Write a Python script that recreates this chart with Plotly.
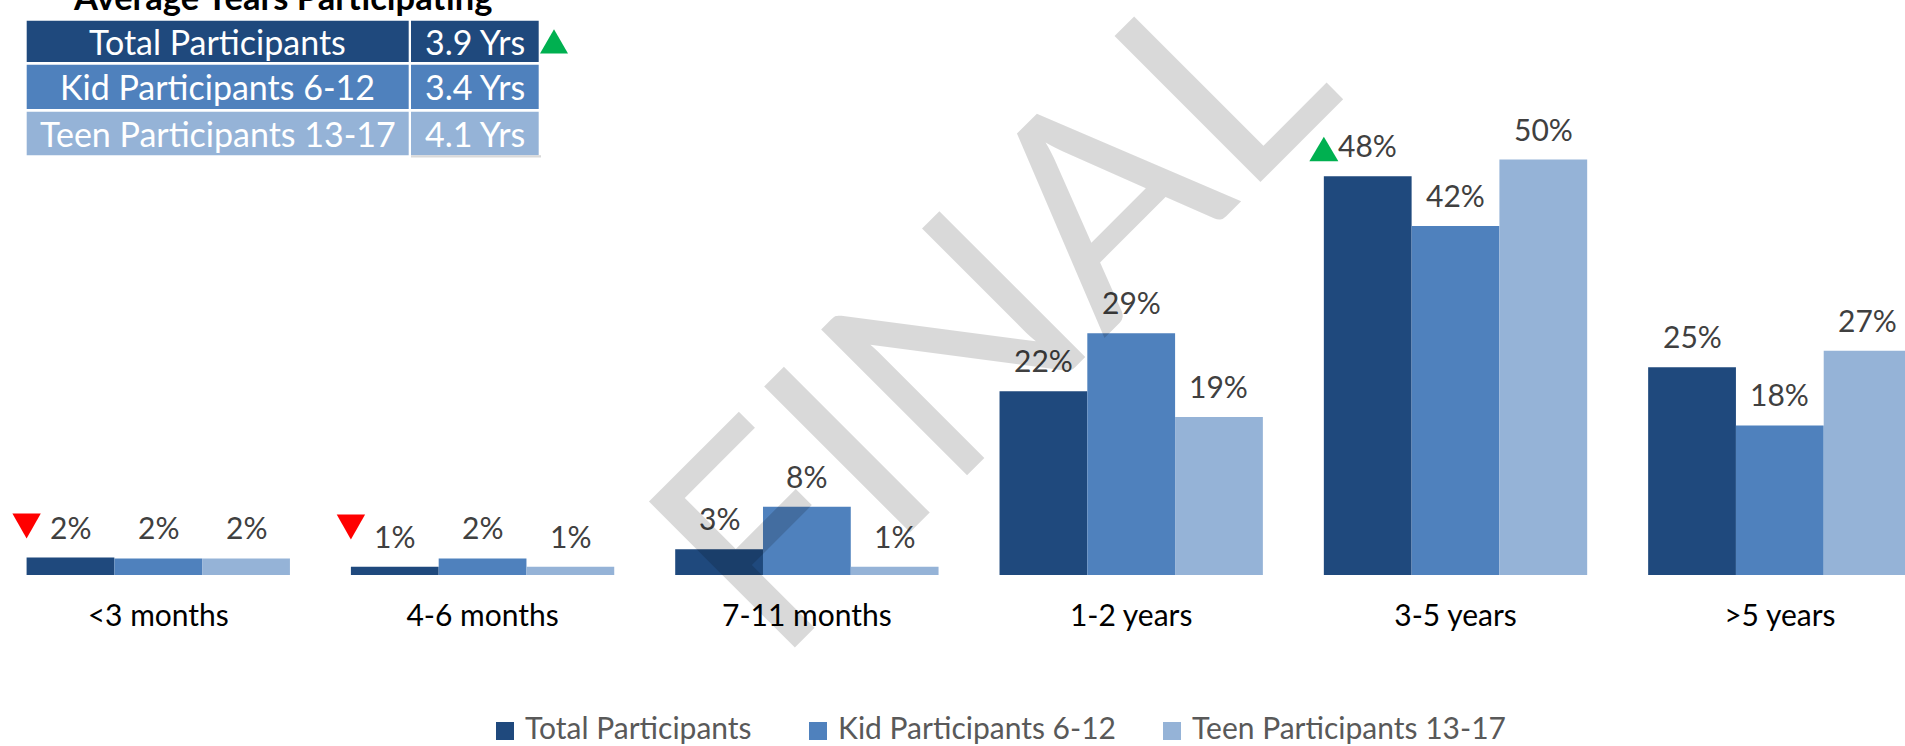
import plotly.graph_objects as go

# ---------------- data ----------------
categories = ["<3 months", "4-6 months", "7-11 months", "1-2 years", "3-5 years", ">5 years"]
series_names = ["Total Participants", "Kid Participants 6-12", "Teen Participants 13-17"]
total_values = [2.1, 1.0, 3.1, 22.1, 48.0, 25.0]
kid_values = [2.0, 2.0, 8.2, 29.1, 42.0, 18.0]
teen_values = [2.0, 1.0, 1.0, 19.0, 50.0, 27.0]
avg_years = [3.9, 3.4, 4.1]
trend_down_categories = ["<3 months", "4-6 months"]
trend_up_categories = ["3-5 years"]
table_trend_up = ["Total Participants"]

# ---------------- styling ----------------
W, H = 1905, 746
PLOT_H = 575            # plot area height in px (top margin 0)
FONT = "Lato"
colors = ["#1F497D", "#4F81BD", "#95B3D7"]
GREEN, RED = "#00B050", "#FF0000"
BARGAP = 0.188
BAR_W = (1 - BARGAP) / 3
X_RANGE = [-0.488, 5.386]
Y_RANGE = [0, 69.2]
LEGEND_MARK_X = [496, 809, 1163]   # left edge of legend swatches (px)


def pxx(px):
    return px / W


def pxy(py):
    return 1 - py / PLOT_H


series_values = [total_values, kid_values, teen_values]
xs = list(range(len(categories)))

fig = go.Figure()
for name, vals, col in zip(series_names, series_values, colors):
    fig.add_trace(go.Bar(x=xs, y=vals, name=name, marker=dict(color=col, line=dict(width=0)),
                         showlegend=False, hoverinfo="skip"))

annotations = []
shapes = []

# data labels
for j, vals in enumerate(series_values):
    for i, v in enumerate(vals):
        annotations.append(dict(x=i + (j - 1) * BAR_W, y=v, xref="x", yref="y",
                                text=f"{round(v)}%", showarrow=False, yanchor="bottom", yshift=11,
                                font=dict(family=FONT, size=30, color="#404040")))

# trend triangles next to the Total bars
for cat in trend_down_categories:
    i = categories.index(cat)
    y_anchor = max(total_values[i], kid_values[i])
    shapes.append(dict(type="path", xref="x", yref="y", xsizemode="pixel", ysizemode="pixel",
                       xanchor=i - 1.5 * BAR_W, yanchor=y_anchor,
                       path="M-14.2,44 L14.2,44 L0,19 Z", fillcolor=RED, line=dict(width=0)))
for cat in trend_up_categories:
    i = categories.index(cat)
    y_anchor = max(total_values[i], kid_values[i])
    shapes.append(dict(type="path", xref="x", yref="y", xsizemode="pixel", ysizemode="pixel",
                       xanchor=i - 1.5 * BAR_W, yanchor=y_anchor,
                       path="M-14.5,15 L14.5,15 L0,39.5 Z", fillcolor=GREEN, line=dict(width=0)))

# ---------------- summary table (top-left) ----------------
row_tops = [20.7, 64.7, 111.7]
row_bots = [62.0, 109.0, 155.3]
c1 = (26.7, 408.7)
c2 = (411.0, 538.7)
for k in range(3):
    for (a, b) in (c1, c2):
        shapes.append(dict(type="rect", xref="paper", yref="paper",
                           x0=pxx(a), x1=pxx(b), y0=pxy(row_bots[k]), y1=pxy(row_tops[k]),
                           fillcolor=colors[k], line=dict(width=0), layer="above"))
    yc = pxy((row_tops[k] + row_bots[k]) / 2)
    annotations.append(dict(x=pxx((c1[0] + c1[1]) / 2), y=yc, xref="paper", yref="paper",
                            text=series_names[k], showarrow=False, xanchor="center", yanchor="middle",
                            font=dict(family=FONT, size=34, color="white")))
    annotations.append(dict(x=pxx((c2[0] + c2[1]) / 2), y=yc, xref="paper", yref="paper",
                            text=f"{avg_years[k]} Yrs", showarrow=False, xanchor="center", yanchor="middle",
                            font=dict(family=FONT, size=34, color="white")))
# faint shadow under last value cell
shapes.append(dict(type="rect", xref="paper", yref="paper", x0=pxx(411), x1=pxx(541),
                   y0=pxy(157.5), y1=pxy(155.3), fillcolor="#D9D9D9", line=dict(width=0)))
for name in table_trend_up:
    k = series_names.index(name)
    shapes.append(dict(type="path", xref="paper", yref="paper", xsizemode="pixel", ysizemode="pixel",
                       xanchor=pxx(554), yanchor=pxy((row_tops[k] + row_bots[k]) / 2),
                       path="M-14,-12.2 L14,-12.2 L0,12.2 Z", fillcolor=GREEN, line=dict(width=0)))

annotations.append(dict(x=pxx(282.7), y=pxy(-3.3), xref="paper", yref="paper",
                        text="<b>Average Years Participating</b>", showarrow=False,
                        xanchor="center", yanchor="middle",
                        font=dict(family=FONT, size=34.5, color="black")))

# ---------------- legend (swatch + label) ----------------
for name, col, mx in zip(series_names, colors, LEGEND_MARK_X):
    shapes.append(dict(type="rect", xref="paper", yref="paper",
                       x0=pxx(mx), x1=pxx(mx + 18), y0=pxy(740), y1=pxy(722),
                       fillcolor=col, line=dict(width=0)))
    annotations.append(dict(x=pxx(mx + 27), y=pxy(727), xref="paper", yref="paper",
                            text=name, showarrow=False, xanchor="left", yanchor="middle",
                            font=dict(family=FONT, size=30, color="#595959")))

# watermark
annotations.append(dict(x=pxx(982), y=pxy(302), xref="paper", yref="paper", text="FINAL",
                        showarrow=False, textangle=-45, xanchor="center", yanchor="middle",
                        font=dict(family=FONT, size=288, color="rgba(0,0,0,0.15)")))

fig.update_layout(
    width=W, height=H,
    margin=dict(l=0, r=0, t=0, b=H - PLOT_H, pad=0),
    paper_bgcolor="white", plot_bgcolor="white",
    barmode="group", bargap=BARGAP, bargroupgap=0,
    xaxis=dict(range=X_RANGE, tickmode="array", tickvals=xs, ticktext=categories,
               showgrid=False, zeroline=False, showline=False, ticks="", automargin=False,
               ticklabelstandoff=20, tickfont=dict(family=FONT, size=30, color="black"),
               fixedrange=True),
    yaxis=dict(range=Y_RANGE, visible=False, showgrid=False, zeroline=False, automargin=False,
               fixedrange=True),
    annotations=annotations,
    shapes=shapes,
    showlegend=False,
)

fig.write_html("out.html", config={"displayModeBar": False, "staticPlot": True},
               post_script="document.body.style.margin='0';document.body.style.overflow='hidden';")
